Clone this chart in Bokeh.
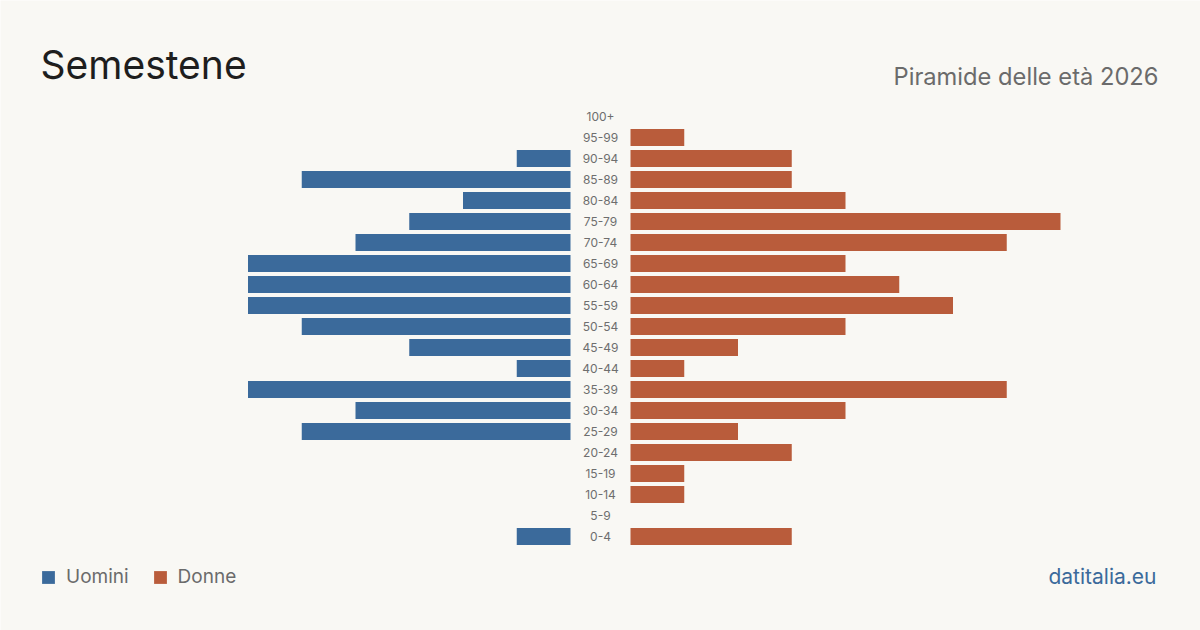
from bokeh.plotting import figure
from bokeh.models import Range1d, Label, Legend, LegendItem, ColumnDataSource
from bokeh.core.properties import value
from bokeh.embed import file_html
from bokeh.resources import INLINE

# Data (index 0 = youngest)
age_groups = ["0-4", "5-9", "10-14", "15-19", "20-24", "25-29", "30-34", "35-39",
              "40-44", "45-49", "50-54", "55-59", "60-64", "65-69", "70-74",
              "75-79", "80-84", "85-89", "90-94", "95-99", "100+"]
men = [1, 0, 0, 0, 0, 5, 4, 6, 1, 3, 5, 6, 6, 6, 4, 3, 2, 5, 1, 0, 0]
women = [3, 0, 1, 1, 3, 2, 4, 7, 1, 2, 4, 6, 5, 4, 7, 8, 4, 3, 3, 1, 0]

BG = "#f9f8f4"
BLUE = "#3b6a9b"
RED = "#b95c3b"
FONT = "Inter"

px_per_unit = 53.75
gap = 30 / px_per_unit  # half-gap for the central labels
row_px = 21.0
W, H = 1200, 630
y0_px = 535.9  # center of youngest row from top

pos = list(range(len(age_groups)))
src = ColumnDataSource(dict(
    y=pos,
    label=age_groups,
    m_left=[-gap - v for v in men],
    m_right=[-gap for _ in men],
    f_left=[gap for _ in women],
    f_right=[gap + v for v in women],
))

p = figure(width=W, height=H, output_backend="svg", toolbar_location=None,
           x_range=Range1d(-(W / 2) / px_per_unit, (W / 2) / px_per_unit),
           y_range=Range1d((y0_px - H) / row_px, y0_px / row_px),
           min_border=0, background_fill_color=BG, border_fill_color=BG,
           outline_line_color=None)
p.xaxis.visible = False
p.yaxis.visible = False
p.grid.visible = False

bh = 17 / row_px
rm = p.hbar(y="y", left="m_left", right="m_right", height=bh, source=src,
            fill_color=BLUE, line_color=None)
rf = p.hbar(y="y", left="f_left", right="f_right", height=bh, source=src,
            fill_color=RED, line_color=None)

p.text(x=0, y="y", text="label", source=src, text_align="center",
       text_baseline="middle", text_font=value(FONT), text_font_size="12px",
       text_color="#6e6e6e")

p.add_layout(Label(x=40, y=H - 64, x_units="screen", y_units="screen",
                   text="Semestene", text_font=FONT, text_font_size="39px",
                   text_color="#1e1e1e", text_baseline="alphabetic"))
p.add_layout(Label(x=1158, y=H - 75.5, x_units="screen", y_units="screen",
                   text="Piramide delle età 2026", text_font=FONT,
                   text_font_size="23.7px", text_color="#6b6b6b",
                   text_align="right", text_baseline="alphabetic"))
p.add_layout(Label(x=1156, y=H - 575.5, x_units="screen", y_units="screen",
                   text="datitalia.eu", text_font=FONT,
                   text_font_size="21px", text_color=BLUE,
                   text_align="right", text_baseline="alphabetic"))

legend = Legend(items=[LegendItem(label="Uomini", renderers=[rm]),
                       LegendItem(label="Donne", renderers=[rf])],
                orientation="horizontal", location=(40, 42),
                glyph_width=16, glyph_height=16, label_standoff=10,
                spacing=23, padding=0, margin=0,
                label_text_font=FONT, label_text_font_size="19px",
                label_text_color="#6b6b6b",
                background_fill_alpha=0, border_line_alpha=0)
p.add_layout(legend)

open("out.html", "w").write(file_html(p, INLINE))
